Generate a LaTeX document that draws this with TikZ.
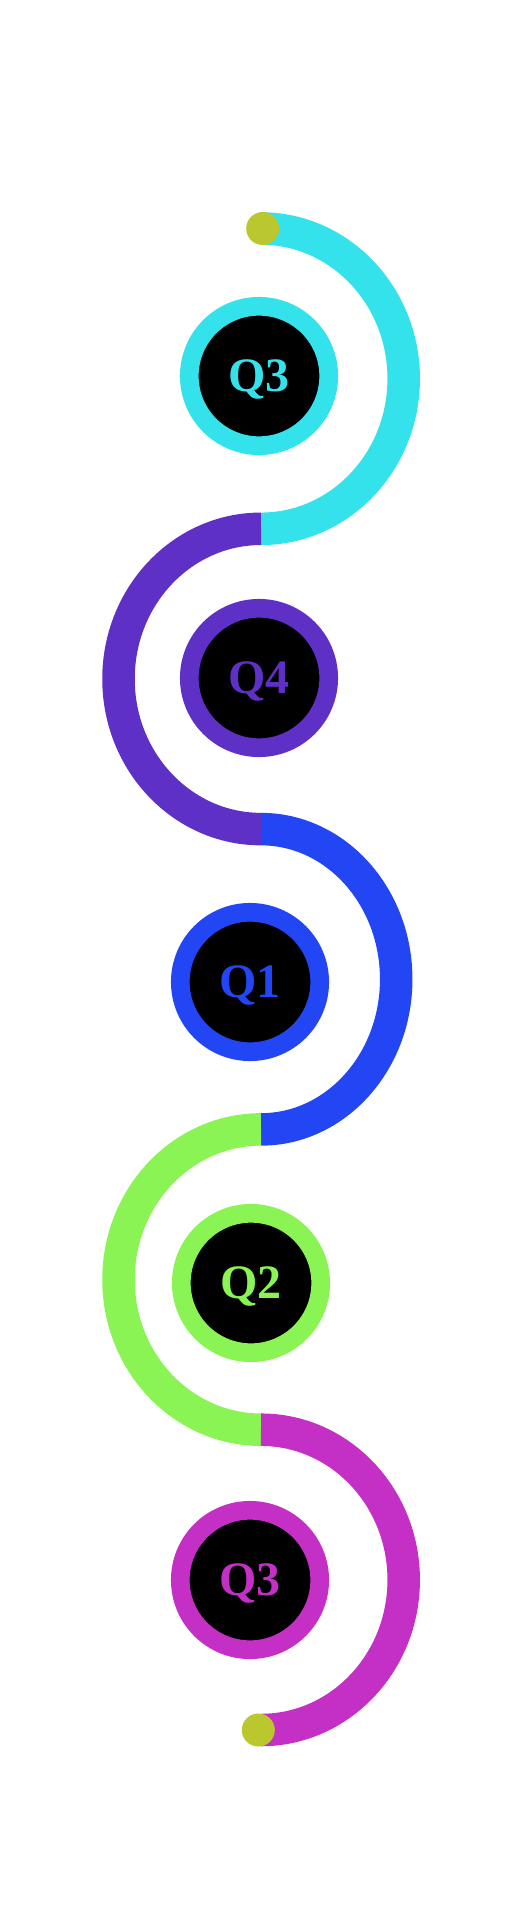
\documentclass[tikz,border=0pt]{standalone}
\usepackage{fontspec}
\setmainfont{Liberation Serif}

\definecolor{qcyan}{HTML}{34E2EB}
\definecolor{qpurple}{HTML}{5E30C6}
\definecolor{qblue}{HTML}{2346F4}
\definecolor{qgreen}{HTML}{8AF454}
\definecolor{qmagenta}{HTML}{C42FC6}
\definecolor{qyellow}{HTML}{BAC72E}

\begin{document}
\begin{tikzpicture}[x=1pt, y=1pt,
    band/.style={line width=32.5pt},
    qring/.style={circle, draw=#1, fill=black, line width=18.7pt,
        minimum size=139.4pt, inner sep=0pt, text=#1,
        font=\fontsize{48}{48}\selectfont\bfseries,
        text height=31.8pt, text depth=0pt},
    tipdot/.style={circle, fill=qyellow, minimum size=33pt, inner sep=0pt}]
    \useasboundingbox (0,0) rectangle (516,-1905);

    % junctions of the wave
    \coordinate (j0) at (261,-228.5);
    \coordinate (j1) at (261,-528.8);
    \coordinate (j2) at (261,-829.1);
    \coordinate (j3) at (261,-1129.4);
    \coordinate (j4) at (261,-1429.7);
    \coordinate (j5) at (261,-1730);

    \draw[band, qcyan] (j0) arc[start angle=90, end angle=-90, x radius=142.7, y radius=150.15];
    \draw[band, qpurple] (j1) arc[start angle=90, end angle=270, x radius=142.5, y radius=150.15];
    \draw[band, qblue] (j2) arc[start angle=90, end angle=-90, x radius=135.2, y radius=150.15];
    \draw[band, qgreen] (j3) arc[start angle=90, end angle=270, x radius=142.5, y radius=150.15];
    \draw[band, qmagenta] (j4) arc[start angle=90, end angle=-90, x radius=142.7, y radius=150.15];

    \node[qring=qcyan] (q3top) at (259,-376) {Q3};
    \node[qring=qpurple] (q4) at (259,-678) {Q4};
    \node[qring=qblue] (q1) at (250,-982) {Q1};
    \node[qring=qgreen] (q2) at (251,-1283) {Q2};
    \node[qring=qmagenta] (q3bot) at (250,-1580) {Q3};

    \node[tipdot] (start) at (262.7,-228.5) {};
    \node[tipdot] (finish) at (258.3,-1730) {};
\end{tikzpicture}
\end{document}
